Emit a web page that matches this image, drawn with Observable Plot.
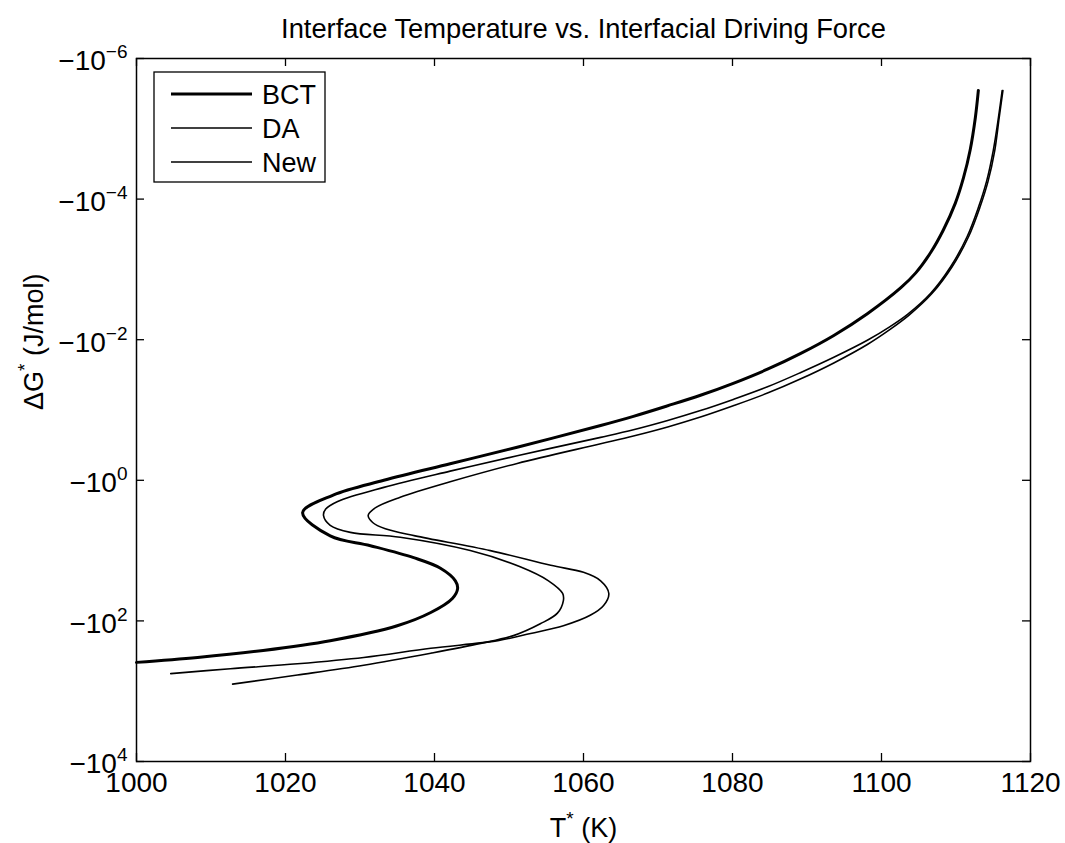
<!DOCTYPE html>
<html>
<head>
<meta charset="utf-8">
<script src="https://cdn.jsdelivr.net/npm/d3@7"></script>
<script src="https://cdn.jsdelivr.net/npm/@observablehq/plot@0.6"></script>
<style>
  html, body { margin: 0; padding: 0; background: #fff; }
  svg { display: block; }
</style>
</head>
<body>
<div id="chart"></div>
<script>
// ---- Data (T* in K, ΔG* in J/mol, negative) ----
const titleText = "Interface Temperature vs. Interfacial Driving Force";
const xLabel = "T^{*} (K)";
const yLabel = "ΔG^{*} (J/mol)";
const seriesNames = ["BCT", "DA", "New"];
const xTicks = [1000, 1020, 1040, 1060, 1080, 1100, 1120];
const yTicks = [1e-6, 1e-4, 1e-2, 1e0, 1e2, 1e4]; // magnitudes of ΔG*

const bctT = [1113.0,1112.6,1111.9,1111.0,1109.9,1108.3,1106.6,1104.6,1102.6,1098.1,1093.6,1089.1,1084.7,1080.1,1075.7,1071.3,1066.7,1062.3,1051.1,1042.1,1033.2,1026.4,1022.3,1026.0,1031.4,1037.2,1040.8,1042.8,1043.1,1042.4,1039.5,1035.0,1026.0,1017.0,1008.2,1000.0];
const bctG = [-2.85e-6,-6.9e-6,-2.0e-5,-5.0e-5,-1.15e-4,-2.75e-4,-5.75e-4,-1.12e-3,-1.82e-3,-4.27e-3,-8.7e-3,-0.0158,-0.0263,-0.0417,-0.0617,-0.0871,-0.123,-0.166,-0.339,-0.582,-1.0,-1.62,-2.88,-6.17,-8.51,-12.6,-17.8,-26.9,-34.7,-47.9,-75.9,-117,-191,-263,-331,-389];

const daT = [1116.2,1115.7,1115.0,1114.1,1113.0,1111.5,1109.3,1106.6,1103.5,1101.2,1098.1,1093.6,1089.1,1084.7,1080.1,1075.7,1071.3,1066.7,1062.3,1051.1,1042.1,1033.2,1027.0,1025.4,1025.1,1026.0,1028.7,1035.4,1044.8,1051.5,1055.3,1057.2,1057.3,1056.5,1054.2,1050.6,1046.2,1039.5,1030.5,1021.6,1012.9];
const daG = [-2.85e-6,-6.9e-6,-2.04e-5,-5.6e-5,-1.32e-4,-3.4e-4,-9.1e-4,-2.19e-3,-4.37e-3,-6.46e-3,-0.0102,-0.0178,-0.0295,-0.0468,-0.0708,-0.102,-0.141,-0.191,-0.245,-0.447,-0.741,-1.26,-2.0,-2.57,-3.16,-4.37,-5.50,-6.46,-10.0,-17.0,-26.9,-40.7,-51.3,-77.6,-110,-162,-209,-288,-427,-589,-794];

const newT = [1116.3,1115.8,1115.2,1114.3,1113.2,1111.7,1109.5,1106.8,1103.7,1101.2,1098.1,1093.6,1089.1,1084.7,1080.1,1075.7,1071.3,1066.7,1062.3,1051.1,1042.1,1035.4,1032.1,1031.1,1031.7,1033.4,1037.4,1047.5,1055.6,1060.0,1062.3,1063.4,1062.7,1060.9,1057.3,1052.9,1048.5,1039.5,1030.5,1021.6,1012.6,1004.6];
const newG = [-2.85e-6,-6.9e-6,-2.04e-5,-5.6e-5,-1.32e-4,-3.4e-4,-9.1e-4,-2.19e-3,-4.47e-3,-7.08e-3,-0.0117,-0.0214,-0.0363,-0.0575,-0.0871,-0.126,-0.174,-0.234,-0.302,-0.575,-1.05,-1.74,-2.45,-3.16,-3.98,-4.90,-6.17,-10.0,-16.2,-20.4,-26.9,-40.7,-60.3,-83.2,-117,-151,-191,-245,-331,-407,-479,-562];

// ---- Build tables ----
const toRows = (name, T, G) => T.map((t, i) => ({series: name, T: t, dG: G[i]}));
const bct = toRows("BCT", bctT, bctG);
const da = toRows("DA", daT, daG);
const nw = toRows("New", newT, newG);

// ---- Layout ----
const W = 1065, H = 843;
const mL = 136, mR = 35, mT = 58, mB = 82;
const plotW = W - mL - mR, plotH = H - mT - mB;
const tickLen = 8;
const font = "'Liberation Sans', Arial, Helvetica, sans-serif";

const expFmt = d => {
  const e = Math.round(Math.log10(d));
  return "−10^{" + (e < 0 ? "−" + (-e) : String(e)) + "}";
};

const chart = Plot.plot({
  width: W, height: H,
  marginLeft: mL, marginRight: mR, marginTop: mT, marginBottom: mB,
  style: {fontFamily: font, fontSize: "28px", color: "black", background: "white"},
  x: {domain: [1000, 1120]},
  y: {type: "log", domain: [1e-6, 1e4], reverse: true},
  marks: [
    Plot.line(bct, {x: "T", y: d => -d.dG, stroke: "black", strokeWidth: 3, curve: "catmull-rom"}),
    Plot.line(da, {x: "T", y: d => -d.dG, stroke: "black", strokeWidth: 1.6, curve: "catmull-rom"}),
    Plot.line(nw, {x: "T", y: d => -d.dG, stroke: "black", strokeWidth: 1.6, curve: "catmull-rom"}),
    Plot.frame({stroke: "black", strokeWidth: 1.5}),
    // inward ticks on all four sides
    Plot.tickX(xTicks, {x: d => d, insetTop: plotH - tickLen, stroke: "black", strokeWidth: 1.3}),
    Plot.tickX(xTicks, {x: d => d, insetBottom: plotH - tickLen, stroke: "black", strokeWidth: 1.3}),
    Plot.tickY(yTicks, {y: d => d, insetRight: plotW - tickLen, stroke: "black", strokeWidth: 1.3}),
    Plot.tickY(yTicks, {y: d => d, insetLeft: plotW - tickLen, stroke: "black", strokeWidth: 1.3}),
    Plot.axisX({ticks: xTicks, tickSize: 0, tickPadding: 11, label: null, tickFormat: d => String(d)}),
    Plot.axisY({ticks: yTicks, tickSize: 0, tickPadding: 9, label: null, tickFormat: expFmt, dy: 3}),
    Plot.text([titleText], {text: d => d, frameAnchor: "top", lineAnchor: "bottom", dy: -21, fontSize: 27.3}),
    Plot.text([xLabel], {text: d => d, frameAnchor: "bottom", lineAnchor: "bottom", dy: 75, fontSize: 27}),
    Plot.text([yLabel], {text: d => d, frameAnchor: "left", lineAnchor: "bottom", rotate: -90, dx: -94, fontSize: 27})
  ]
});

// ---- Superscripts: turn "^{...}" into raised tspans ----
function superscriptify(el) {
  const s = el.textContent;
  if (!s.includes("^{")) return;
  const parts = s.split(/(\^\{[^}]*\})/).filter(p => p.length);
  el.textContent = "";
  const sel = d3.select(el);
  let raised = false;
  for (const p of parts) {
    if (p.startsWith("^{")) {
      sel.append("tspan").attr("dy", "-12").attr("font-size", "19").text(p.slice(2, -1));
      raised = true;
    } else {
      const t = sel.append("tspan").text(p);
      if (raised) { t.attr("dy", "12"); raised = false; }
    }
  }
}
d3.select(chart).selectAll("text").each(function() { superscriptify(this); });

// ---- Legend (box in upper-left of the plot area) ----
const lg = d3.select(chart).append("g")
  .attr("font-family", font).attr("font-size", 27).attr("text-anchor", "start");
lg.append("rect").attr("x", 154).attr("y", 72).attr("width", 171).attr("height", 110)
  .attr("fill", "white").attr("stroke", "black").attr("stroke-width", 1.3);
const lw = [3, 1.6, 1.6];
seriesNames.forEach((name, i) => {
  const cy = 94 + i * 34;
  lg.append("line").attr("x1", 171).attr("x2", 252).attr("y1", cy).attr("y2", cy)
    .attr("stroke", "black").attr("stroke-width", lw[i]);
  lg.append("text").attr("x", 262).attr("y", cy + 9.5).attr("text-anchor", "start").text(name);
});

document.getElementById("chart").appendChild(chart);
</script>
</body>
</html>
